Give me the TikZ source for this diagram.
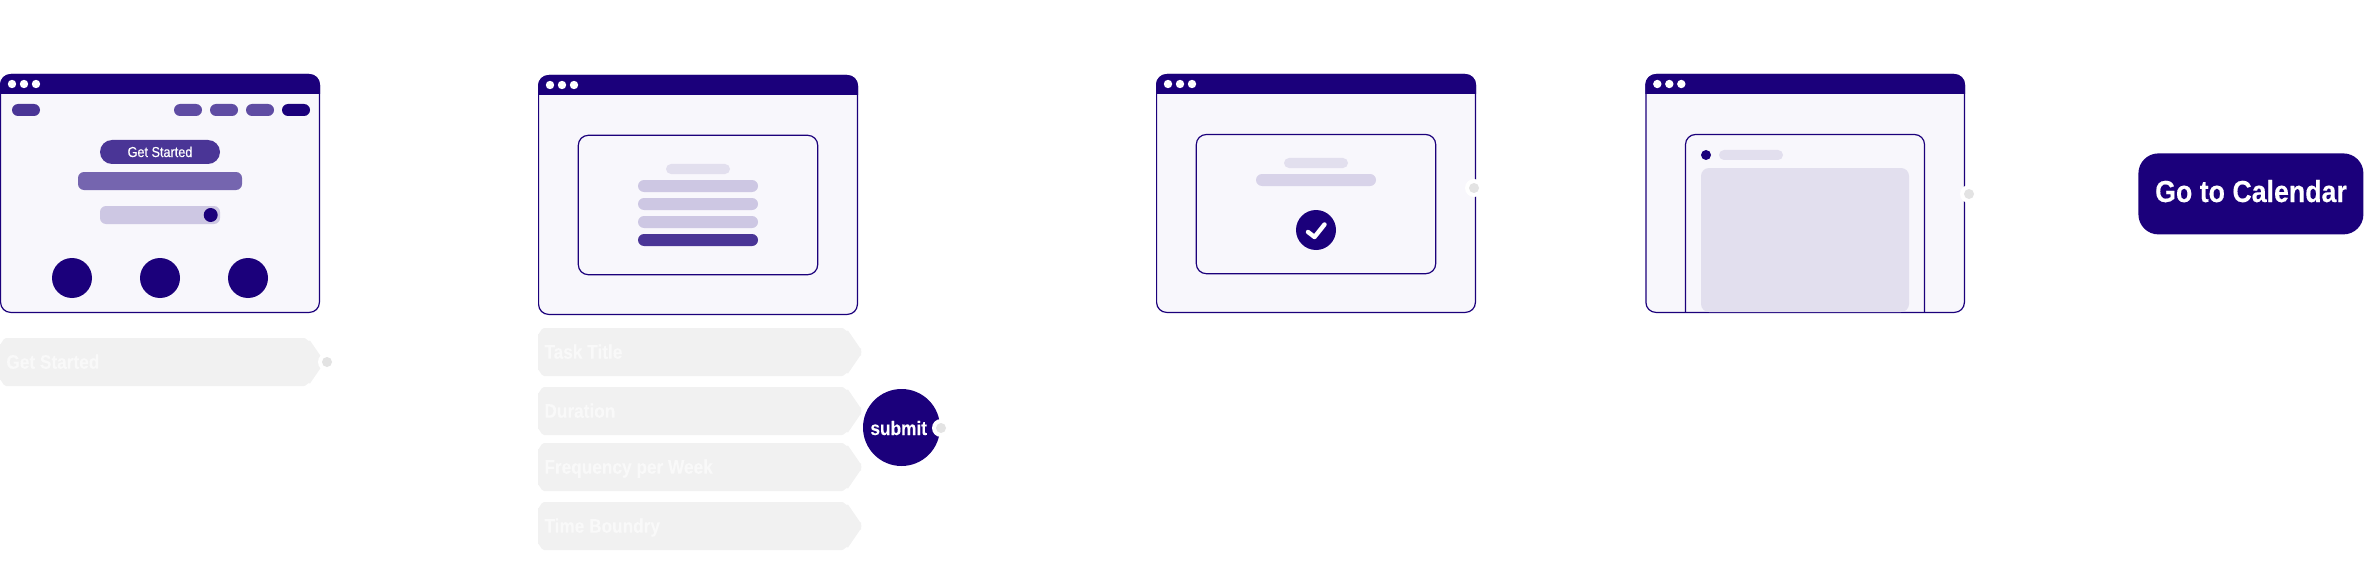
\documentclass[tikz,border=0pt]{standalone}
\usepackage{fontspec}
\setmainfont[FakeStretch=0.88,BoldFeatures={FakeBold=0.25}]{Liberation Sans}
\newfontfamily\medfont[FakeStretch=0.88,FakeBold=0.3]{Liberation Sans}
\definecolor{ink}{HTML}{1B007B}
\definecolor{paper}{HTML}{F8F7FC}
\definecolor{mid}{HTML}{4A3596}
\definecolor{navp}{HTML}{5F4CA3}
\definecolor{barp}{HTML}{7565AF}
\definecolor{lilac}{HTML}{CDC7E3}
\definecolor{pale}{HTML}{E2DFEE}
\definecolor{pale2}{HTML}{D8D3E9}
\definecolor{taggrey}{HTML}{F1F1F1}
\definecolor{tagtext}{HTML}{F9F9F9}
\definecolor{portgrey}{HTML}{E3E3E3}
% pill: x1 y1 x2 y2 radius colour
\newcommand{\pill}[6]{\fill[#6,rounded corners=#5*0.5pt] (#1,#2) rectangle (#3,#4);}
% window: left x, top y, right x, bottom y, title bottom y
\newcommand{\wnd}[5]{%
  \draw[ink,fill=paper,line width=0.6pt,rounded corners=5pt] (#1+0.6,#2+0.6) rectangle (#3-0.6,#4-0.6);
  \fill[ink] (#1,#5) {[rounded corners=5.5pt] -- (#1,#2) -- (#3,#2)} -- (#3,#5) -- cycle;
  \foreach \dx in {12,24,36} \fill[white] (#1+\dx,#2+10) circle[radius=4.2];
}
% tag: left, top, name text, name
\newcommand{\tagbox}[4]{%
  \fill[taggrey] (#1+6,#2) -- (#1+304,#2) to[out=0,in=-125] (#1+310,#2+2.5) -- (#1+322,#2+20) to[out=55,in=-55] (#1+322,#2+28) -- (#1+310,#2+45.5) to[out=125,in=0] (#1+304,#2+48) -- (#1+6,#2+48) to[out=180,in=90] (#1,#2+42) -- (#1,#2+6) to[out=-90,in=180] (#1+6,#2) -- cycle;
  \node[tagfont,anchor=base west] (#4) at (#1+6,#2+30.7) {#3};
}
\newcommand{\port}[3]{%
  \fill[white] (#2,#3) circle[radius=9];
  \node[circle,fill=portgrey,minimum size=5pt,inner sep=0pt] (#1) at (#2,#3) {};
}
\tikzset{
  tagfont/.style={text=tagtext,inner sep=0pt,font=\fontsize{9.8}{11}\selectfont\bfseries},
  disc/.style={circle,fill=ink,inner sep=0pt},
}
\begin{document}
\begin{tikzpicture}[x=0.5pt,y=-0.5pt]
\useasboundingbox (0,0) rectangle (2372,583);
% window 1
\wnd{0}{74}{320}{313}{94}
\pill{12}{104}{40}{116}{6}{mid}
\pill{174}{104}{202}{116}{6}{navp}
\pill{210}{104}{238}{116}{6}{navp}
\pill{246}{104}{274}{116}{6}{navp}
\pill{282}{104}{310}{116}{6}{ink}
\pill{100}{140}{220}{164}{12}{mid}
\node[text=white,inner sep=0pt,font=\fontsize{7.2}{8}\medfont,anchor=base] (gs) at (160,157) {Get Started};
\pill{78}{172}{242}{190}{6}{barp}
\pill{100}{206}{220}{224}{6}{lilac}
\node[disc,minimum size=7pt] (sl) at (210.7,215) {};
\node[disc,minimum size=20pt] (c1) at (72,278) {};
\node[disc,minimum size=20pt] (c2) at (160,278) {};
\node[disc,minimum size=20pt] (c3) at (248,278) {};
\tagbox{0}{338}{Get Started}{t0}
\port{p1}{327}{362}
% window 2
\wnd{538}{75}{858}{315}{95}
\draw[ink,line width=0.6pt,rounded corners=5pt] (578.3,135.3) rectangle (817.7,274.7);
\pill{666}{164}{730}{174}{5}{pale}
\pill{638}{180}{758}{192}{6}{lilac}
\pill{638}{198}{758}{210}{6}{lilac}
\pill{638}{216}{758}{228}{6}{lilac}
\pill{638}{234}{758}{246}{6}{mid}
\tagbox{538}{328}{Task Title}{t1}
\tagbox{538}{387}{Duration}{t2}
\tagbox{538}{443}{Frequency per Week}{t3}
\tagbox{538}{502}{Time Boundry}{t4}
\node[disc,minimum size=38.5pt] (submit) at (901.5,427.5) {};
\node[text=white,inner sep=0pt,font=\fontsize{9.8}{12}\selectfont\bfseries,anchor=base] (submitlabel) at (898.7,435) {submit};
\port{p2}{941}{428}
% window 3
\wnd{1156}{74}{1476}{313}{94}
\draw[ink,line width=0.6pt,rounded corners=5pt] (1196.3,134.5) rectangle (1435.7,273.7);
\pill{1284}{158}{1348}{168}{5}{pale}
\pill{1256}{174}{1376}{186}{6}{pale2}
\node[disc,minimum size=20pt] (ok) at (1316,230) {};
\draw[white,line width=2.2pt,line cap=round,line join=round] (1308,232) -- (1314.5,237) -- (1324.5,224.5);
\port{p3}{1474}{188}
% window 4
\wnd{1645.3}{74}{1965}{313}{94}
\fill[ink] (1706,155) circle[radius=5];
\pill{1719}{150}{1783}{160}{5}{pale}
\pill{1701}{168}{1909}{312}{8}{pale}
\draw[ink,line width=0.6pt,rounded corners=5pt] (1685.5,312.4) -- (1685.5,134.5) -- (1924.5,134.5) -- (1924.5,312.4);
\port{p4}{1969}{194}
% button
\node[fill=ink,rounded corners=10pt,minimum width=112.5pt,minimum height=40.5pt,inner sep=0pt,anchor=north west] (cal) at (2138,153) {};
\node[text=white,inner sep=0pt,font=\fontsize{15.2}{18}\selectfont\bfseries,anchor=base] (callabel) at (2251,202) {Go to Calendar};
\end{tikzpicture}
\end{document}
